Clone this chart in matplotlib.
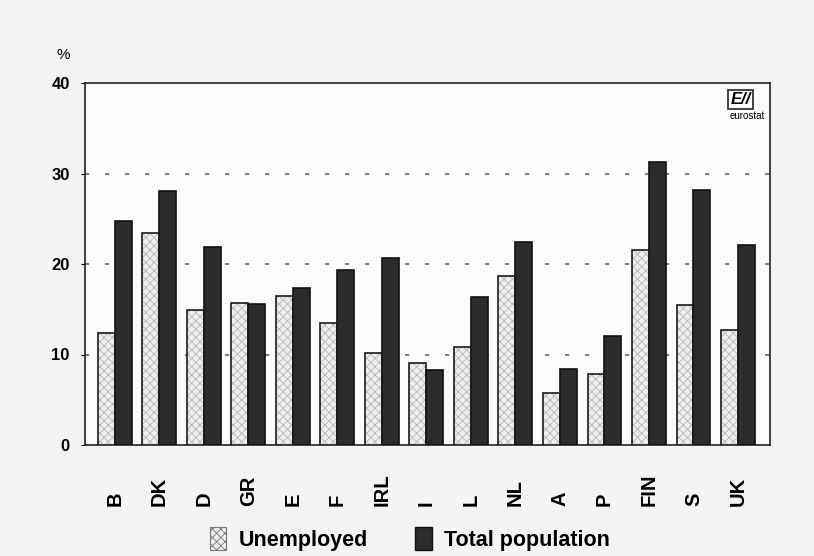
import matplotlib
matplotlib.use("Agg")
import matplotlib.pyplot as plt
import numpy as np
from matplotlib.patches import Patch

countries = ["B", "DK", "D", "GR", "E", "F", "IRL", "I", "L", "NL", "A", "P", "FIN", "S", "UK"]
unemployed = [12.4, 23.4, 14.9, 15.7, 16.5, 13.5, 10.2, 9.1, 10.8, 18.7, 5.7, 7.8, 21.5, 15.5, 12.7]
total_population = [24.8, 28.1, 21.9, 15.6, 17.3, 19.3, 20.7, 8.3, 16.3, 22.4, 8.4, 12.0, 31.3, 28.2, 22.1]
yticks = [0, 10, 20, 30, 40]

plt.rcParams['font.family'] = ['Liberation Sans', 'DejaVu Sans']
plt.rcParams['hatch.linewidth'] = 0.6

fig = plt.figure(figsize=(8.14, 5.56), dpi=100, facecolor='#f4f4f4')
ax = fig.add_axes([85/814, 1-445/556, 685/814, 362/556])
ax.set_facecolor('#fbfbfb')

x = np.arange(len(countries))
w = 0.38
# unemployed: light dotted bars
ax.bar(x - w/2, unemployed, w, color='#eeeeee', edgecolor='#b5b5b5', hatch='xxxx', linewidth=0, zorder=3)
ax.bar(x - w/2, unemployed, w, facecolor='none', edgecolor='#1a1a1a', linewidth=1.2, zorder=4)
ax.bar(x + w/2, total_population, w, color='#2b2b2b', edgecolor='#111111', linewidth=1.2, zorder=3)

ax.set_xlim(-0.67, 14.72)
ax.set_ylim(0, 40)
ax.set_yticks(yticks)
ax.set_yticklabels([str(t) for t in yticks], fontsize=12, fontweight='bold')
ax.tick_params(axis='y', length=3, width=0.8, pad=8)
ax.set_xticks([])
for yv in [10, 20, 30]:
    ax.axhline(yv, color='#666666', linestyle=(0, (2.5, 9.5)), linewidth=1.2, zorder=1)
for s in ax.spines.values():
    s.set_linewidth(1.2)
    s.set_color('#222222')

# rotated country labels, bottom aligned
for xi, c in zip(x, countries):
    ax.text(xi, -0.168, c, transform=ax.get_xaxis_transform(), rotation=90,
            ha='center', va='bottom', fontsize=14.5, fontweight='bold')

fig.text(63/814, 1-55/556, '%', fontsize=11, ha='center', va='center')

# eurostat logo
ax.text(0.972, 0.955, 'E//', transform=ax.transAxes, ha='right', va='center',
        fontsize=12, fontweight='bold', style='italic',
        bbox=dict(boxstyle='square,pad=0.12', facecolor='white', edgecolor='#222222', linewidth=1.2))
ax.text(0.993, 0.91, 'eurostat', transform=ax.transAxes, ha='right', va='center', fontsize=7)

handles = [Patch(facecolor='#eeeeee', edgecolor='#777777', hatch='xxxx', linewidth=0.8),
           Patch(facecolor='#2b2b2b', edgecolor='#111111')]
fig.legend(handles, ['Unemployed', 'Total population'], loc='center',
           bbox_to_anchor=(410/814, 1-539/556), ncol=2, frameon=False,
           prop={'size': 15.5, 'weight': 'bold'},
           handlelength=0.75, handleheight=1.3, columnspacing=2.2, handletextpad=0.6)

fig.savefig('out.png', dpi=100, facecolor=fig.get_facecolor())
